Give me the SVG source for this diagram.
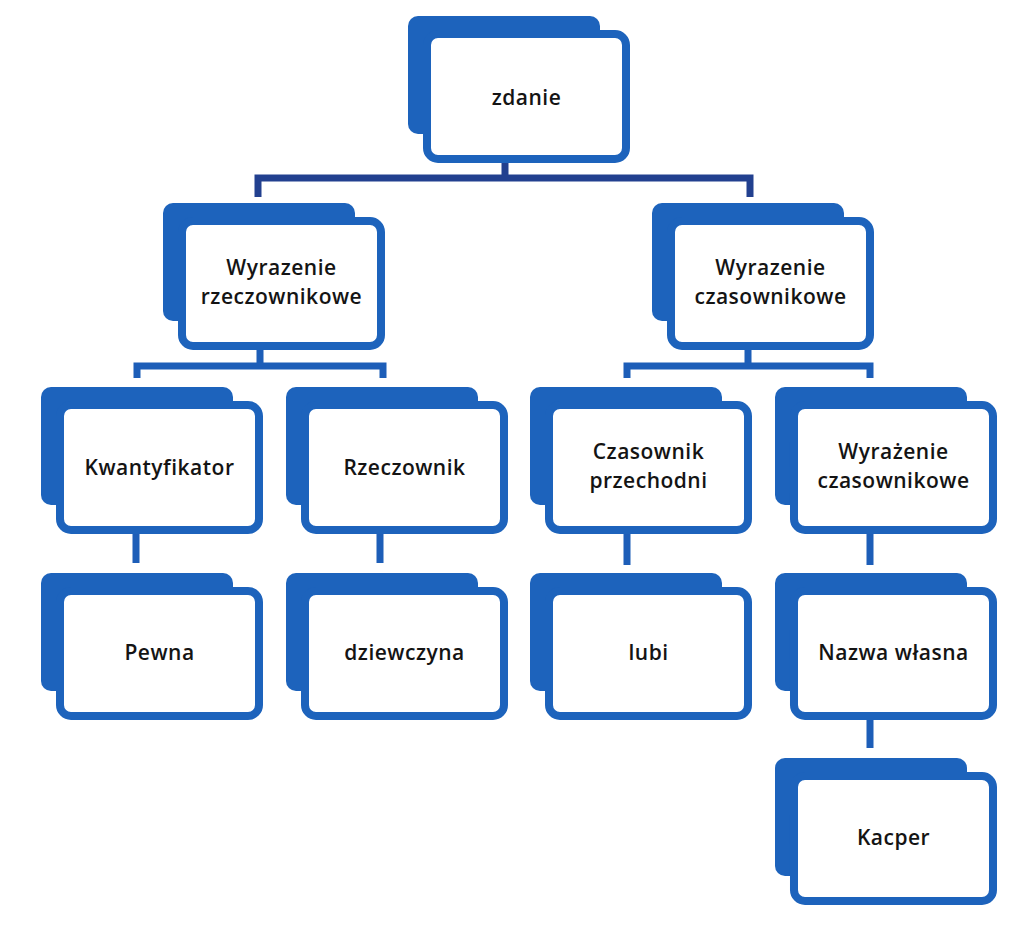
<svg xmlns="http://www.w3.org/2000/svg" width="1024" height="934" viewBox="0 0 1024 934">
<defs>
<style>
.back{fill:#1d63bc;}
.front{fill:#ffffff;stroke:#1d63bc;stroke-width:8;}
.lbl{font-family:"Open Sans","Noto Sans","DejaVu Sans",sans-serif;font-size:21px;font-weight:600;letter-spacing:0.5px;fill:#141414;text-anchor:middle;}
.c1{fill:none;stroke:#22408f;stroke-width:7;}
.c2{fill:none;stroke:#1d5eb8;stroke-width:7;}
</style>
</defs>
<rect width="1024" height="934" fill="#ffffff"/>
<g id="connectors">
<path class="c1" d="M505,160 V178 M258,197 V178 H750 V197"/>
<path class="c2" d="M260,350 V366 M137,378 V366 H383 V378"/>
<path class="c2" d="M748,350 V366 M627,378 V366 H870 V378"/>
<path class="c2" d="M136,533 V563 M380,533 V563 M627,533 V565 M870,533 V565 M870,717 V748"/>
</g>
<g id="n-zdanie" transform="translate(408,16)">
<rect class="back" x="0" y="0" width="192" height="118" rx="10"/>
<rect class="front" x="19" y="18" width="199" height="125" rx="11"/>
<text class="lbl" x="118.5" y="89">zdanie</text>
</g>
<g id="n-wr" transform="translate(163,203)">
<rect class="back" x="0" y="0" width="192" height="118" rx="10"/>
<rect class="front" x="19" y="18" width="199" height="125" rx="11"/>
<text class="lbl" x="118.5" y="72">Wyrazenie</text>
<text class="lbl" x="118.5" y="101">rzeczownikowe</text>
</g>
<g id="n-wc" transform="translate(652,203)">
<rect class="back" x="0" y="0" width="192" height="118" rx="10"/>
<rect class="front" x="19" y="18" width="199" height="125" rx="11"/>
<text class="lbl" x="118.5" y="72">Wyrazenie</text>
<text class="lbl" x="118.5" y="101">czasownikowe</text>
</g>
<g id="n-kwantyfikator" transform="translate(41,387)">
<rect class="back" x="0" y="0" width="192" height="118" rx="10"/>
<rect class="front" x="19" y="18" width="199" height="125" rx="11"/>
<text class="lbl" x="118.5" y="88">Kwantyfikator</text>
</g>
<g id="n-rzeczownik" transform="translate(286,387)">
<rect class="back" x="0" y="0" width="192" height="118" rx="10"/>
<rect class="front" x="19" y="18" width="199" height="125" rx="11"/>
<text class="lbl" x="118.5" y="88">Rzeczownik</text>
</g>
<g id="n-czasownik" transform="translate(530,387)">
<rect class="back" x="0" y="0" width="192" height="118" rx="10"/>
<rect class="front" x="19" y="18" width="199" height="125" rx="11"/>
<text class="lbl" x="118.5" y="72">Czasownik</text>
<text class="lbl" x="118.5" y="101">przechodni</text>
</g>
<g id="n-wc2" transform="translate(775,387)">
<rect class="back" x="0" y="0" width="192" height="118" rx="10"/>
<rect class="front" x="19" y="18" width="199" height="125" rx="11"/>
<text class="lbl" x="118.5" y="72">Wyrażenie</text>
<text class="lbl" x="118.5" y="101">czasownikowe</text>
</g>
<g id="n-pewna" transform="translate(41,573)">
<rect class="back" x="0" y="0" width="192" height="118" rx="10"/>
<rect class="front" x="19" y="18" width="199" height="125" rx="11"/>
<text class="lbl" x="118.5" y="87">Pewna</text>
</g>
<g id="n-dziewczyna" transform="translate(286,573)">
<rect class="back" x="0" y="0" width="192" height="118" rx="10"/>
<rect class="front" x="19" y="18" width="199" height="125" rx="11"/>
<text class="lbl" x="118.5" y="87">dziewczyna</text>
</g>
<g id="n-lubi" transform="translate(530,573)">
<rect class="back" x="0" y="0" width="192" height="118" rx="10"/>
<rect class="front" x="19" y="18" width="199" height="125" rx="11"/>
<text class="lbl" x="118.5" y="87">lubi</text>
</g>
<g id="n-nazwa" transform="translate(775,573)">
<rect class="back" x="0" y="0" width="192" height="118" rx="10"/>
<rect class="front" x="19" y="18" width="199" height="125" rx="11"/>
<text class="lbl" x="118.5" y="87">Nazwa własna</text>
</g>
<g id="n-kacper" transform="translate(775,758)">
<rect class="back" x="0" y="0" width="192" height="118" rx="10"/>
<rect class="front" x="19" y="18" width="199" height="125" rx="11"/>
<text class="lbl" x="118.5" y="87">Kacper</text>
</g>
</svg>
